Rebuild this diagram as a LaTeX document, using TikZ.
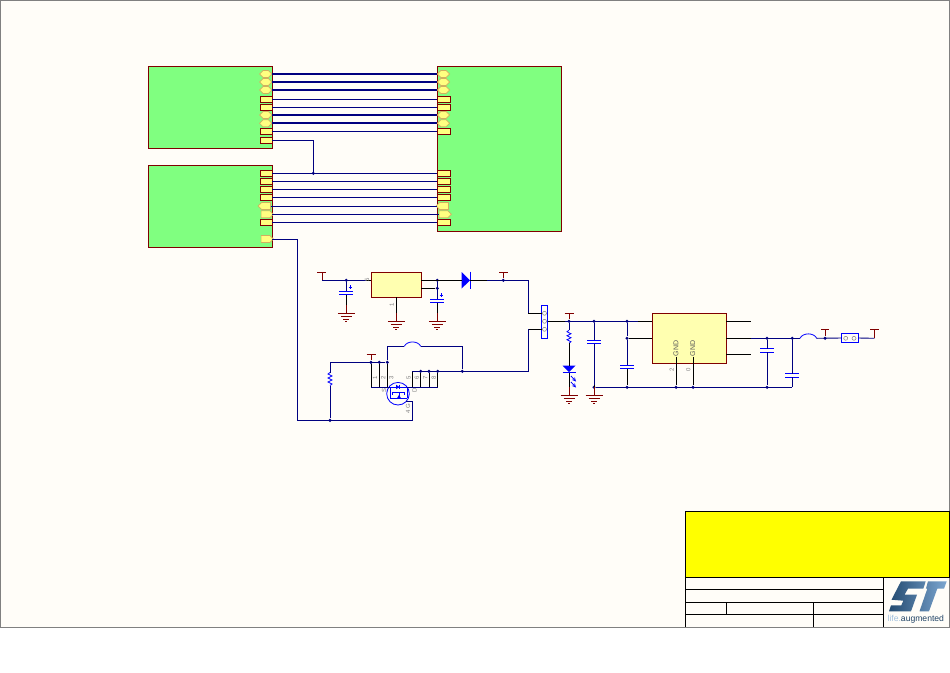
\documentclass[tikz,border=0pt]{standalone}
\usepackage{fontspec}
\setsansfont{Liberation Sans}
\usetikzlibrary{shapes,positioning}
\definecolor{paper}{HTML}{FFFDF8}
\definecolor{sheetgreen}{HTML}{80FF80}
\definecolor{portyellow}{HTML}{FFFF80}
\definecolor{partyellow}{HTML}{FFFFB0}
\definecolor{netblue}{HTML}{000080}
\definecolor{rimred}{HTML}{800000}
\definecolor{hexrim}{HTML}{D0B060}
\definecolor{stdark}{HTML}{234A70}
\definecolor{stlight}{HTML}{7CA6D0}
\definecolor{titleyellow}{HTML}{FFFF00}
\definecolor{pureblue}{HTML}{0000FF}
\tikzset{
  gndmark/.pic={
    \coordinate (-top) at (0,-8);
    \draw[rimred,line width=0.9pt] (0,-8) -- (0,0);
    \draw[rimred,line width=0.9pt] (-8.5,0) -- (8.5,0) (-5.5,3.6) -- (5.5,3.6) (-3,6.6) -- (3,6.6) (-1,8.6) -- (1,8.6);
  },
  capmark/.pic={
    \coordinate (-a) at (0,-1.7);
    \coordinate (-b) at (0,1.7);
    \draw[pureblue,line width=1pt] (-7,-1.7) -- (7,-1.7) (-7,1.7) -- (7,1.7);
  },
  polmark/.pic={
    \draw[pureblue,line width=0.9pt] (-1.8,0) -- (1.8,0) (0,-1.8) -- (0,1.8);
  },
  resmark/.pic={
    \coordinate (-a) at (0,-6.5);
    \coordinate (-b) at (0,6.5);
    \draw[pureblue,line width=0.8pt] (0,-6.5) -- (-2,-5) -- (2,-3) -- (-2,-1) -- (2,1) -- (-2,3) -- (2,5) -- (0,6.5);
  },
  diodemark/.pic={
    \coordinate (-a) at (-4.3,0);
    \coordinate (-b) at (4.3,0);
    \fill[pureblue] (-4.3,-8.2) -- (4,0) -- (-4.3,8.2) -- cycle;
    \draw[pureblue,line width=1pt] (4.3,-8.6) -- (4.3,8.6);
  },
  ledmark/.pic={
    \coordinate (-a) at (0,-3.5);
    \coordinate (-b) at (0,3.5);
    \fill[pureblue] (-6.5,-3.5) -- (6.5,-3.5) -- (0,3.2) -- cycle;
    \draw[pureblue,line width=1pt] (-6.5,3.5) -- (6.5,3.5);
    \draw[pureblue,line width=0.8pt,-stealth] (2,7) -- (7,12.5);
    \draw[pureblue,line width=0.8pt,-stealth] (2,13) -- (7,18.5);
  },
  fetmark/.pic={
    \draw[pureblue,line width=0.8pt] (0,0) circle (11.3);
    \draw[pureblue,line width=0.7pt] (-8,-6.7) -- (9,-6.7) (-8,-6.7) -- (-8,4.5) (9,-6.7) -- (9,4.5);
    \fill[pureblue] (-2,-9) -- (-2,-4.5) -- (1.5,-6.7) -- cycle;
    \draw[pureblue,line width=0.7pt] (1.5,-9) -- (1.5,-4.5);
    \draw[pureblue,line width=0.7pt] (-5.5,-1.8) -- (6,-1.8) (-5.5,-1.8) -- (-5.5,1.5) (1,-1.8) -- (1,4.5) (6,-1.8) -- (6,1.5) (-8,4.5) -- (9,4.5);
    \fill[pureblue] (-1,4.5) -- (3,4.5) -- (1,1.2) -- cycle;
  },
  sheet/.style={draw=rimred,fill=sheetgreen,line width=0.9pt,anchor=north west,inner sep=0pt,outer sep=0pt},
  part/.style={draw=rimred,fill=partyellow,line width=0.9pt,anchor=north west,inner sep=0pt,outer sep=0pt},
  rectport/.style={draw=rimred,fill=portyellow,line width=0.9pt,minimum width=12.3pt,minimum height=6.3pt,inner sep=0pt,outer sep=0pt},
  hexport/.style={signal,signal to=east and west,signal pointer angle=90,draw=hexrim,fill=portyellow,line width=0.7pt,minimum width=12.3pt,minimum height=7pt,inner sep=0pt,outer sep=0pt},
  leftport/.style={hexport,signal to=west},
  rightport/.style={hexport,signal to=east},
  connbox/.style={draw=pureblue,fill=paper,line width=0.9pt,inner sep=0pt,outer sep=0pt},
  pinhole/.style={circle,draw=gray,line width=0.5pt,minimum size=4pt,inner sep=0pt},
  jun/.style={circle,fill=netblue,minimum size=3.4pt,inner sep=0pt},
  bus/.style={netblue,line width=1.9pt},
  wire/.style={netblue,line width=0.9pt},
  pin/.style={black,line width=0.9pt},
  jumper/.style={pureblue,line width=0.8pt},
  pwrbar/.style={rimred,line width=0.9pt},
  pintext/.style={text=gray,font=\sffamily\fontsize{6}{6}\selectfont,rotate=90,inner sep=0pt},
  gndtext/.style={text=gray!70!black,font=\sffamily\fontsize{7}{7}\selectfont,rotate=90,inner sep=0pt}
}
\begin{document}
\begin{tikzpicture}[x=1pt,y=-1pt]
    \useasboundingbox (0,0) rectangle (950,672);
    \fill[paper] (0,0) rectangle (950,627);
    \draw[gray,line width=1pt] (0.5,0.5) rectangle (949.5,627);
    % sheets
    \node[sheet,minimum width=124pt,minimum height=82pt] (sheetA) at (148.3,66.3) {};
    \node[sheet,minimum width=124pt,minimum height=81.6pt] (sheetB) at (148.3,165.7) {};
    \node[sheet,minimum width=124pt,minimum height=165pt] (sheetC) at (437.3,66.3) {};
    % ports of the first sheet
    \node[hexport] (a1) at (265.7,74) {};
    \node[hexport] (a2) at (265.7,82) {};
    \node[hexport] (a3) at (265.7,90) {};
    \node[rectport] (a4) at (266.1,99.3) {};
    \node[rectport] (a5) at (266.1,107.3) {};
    \node[hexport] (a6) at (265.7,115) {};
    \node[hexport] (a7) at (265.7,123.3) {};
    \node[rectport] (a8) at (266.1,131.3) {};
    \node[rectport] (a9) at (266.1,140.3) {};
    % ports of the second sheet
    \node[rectport] (b1) at (266.1,173.3) {};
    \node[rectport] (b2) at (266.1,181.3) {};
    \node[rectport] (b3) at (266.1,189.3) {};
    \node[rectport] (b4) at (266.1,197.3) {};
    \node[leftport] (b5) at (266.1,206) {};
    \node[rightport] (b6) at (265.5,214.3) {};
    \node[rectport] (b7) at (266.1,222.7) {};
    \node[rightport] (b8) at (265.5,239) {};
    % ports of the third sheet
    \node[hexport] (c1) at (443.5,74) {};
    \node[hexport] (c2) at (443.5,82) {};
    \node[hexport] (c3) at (443.5,90) {};
    \node[rectport,minimum width=13.3pt] (c4) at (444,99.3) {};
    \node[rectport,minimum width=13.3pt] (c5) at (444,107.3) {};
    \node[hexport] (c6) at (443.5,115) {};
    \node[hexport] (c7) at (443.5,123.3) {};
    \node[rectport,minimum width=13.3pt] (c8) at (444,131.3) {};
    \node[rectport,minimum width=13.3pt] (c9) at (444,173.3) {};
    \node[rectport,minimum width=13.3pt] (c10) at (444,181.3) {};
    \node[rectport,minimum width=13.3pt] (c11) at (444,189.3) {};
    \node[rectport,minimum width=13.3pt] (c12) at (444,197.3) {};
    \node[leftport] (c13) at (444,206) {};
    \node[rightport] (c14) at (443.5,214.3) {};
    \node[rectport,minimum width=13.3pt] (c15) at (444,222.7) {};
    % nets between the sheets
    \draw[bus] (a1.east -| sheetA.east) -- (c1.west -| sheetC.west);
    \draw[bus] (a2.east -| sheetA.east) -- (c2.west -| sheetC.west);
    \draw[bus] (a3.east -| sheetA.east) -- (c3.west -| sheetC.west);
    \draw[wire] (a4.east) -- (c4.west);
    \draw[wire] (a5.east) -- (c5.west);
    \draw[bus] (a6.east -| sheetA.east) -- (c6.west -| sheetC.west);
    \draw[bus] (a7.east -| sheetA.east) -- (c7.west -| sheetC.west);
    \draw[wire] (a8.east) -- (c8.west);
    \draw[wire] (b1.east) -- (c9.west);
    \draw[wire] (b2.east) -- (c10.west);
    \draw[wire] (b3.east) -- (c11.west);
    \draw[wire] (b4.east) -- (c12.west);
    \draw[wire] (b5.east) -- (c13.west -| sheetC.west);
    \draw[wire] (b6.east -| sheetB.east) -- (c14.west);
    \draw[wire] (b7.east) -- (c15.west);
    \node[jun] (j0) at (313.3,173.3) {};
    \draw[wire] (a9.east) -| (j0.center);
    % input regulator
    \node[part,minimum width=50pt,minimum height=25pt] (reg) at (371.3,272.3) {};
    \node[jun] (j1) at (346.3,280.3) {};
    \node[jun] (j2) at (437.3,280.3) {};
    \node[jun] (j3) at (437.3,288.3) {};
    \node[jun] (j4) at (503.3,280.3) {};
    \coordinate (r1) at (317.3,272.3);
    \coordinate (r2) at (326,272.3);
    \coordinate (r3) at (322,272.3);
    \coordinate (r4) at (322,280.3);
    \coordinate (r5) at (366,280.3);
    \coordinate (r6) at (499,272.3);
    \coordinate (r7) at (507.7,272.3);
    \coordinate (r8) at (503.3,272.3);
    \coordinate (r9) at (528.3,280.3);
    \draw[pwrbar] (r1) -- (r2);
    \draw[pwrbar] (r3) -- (r4);
    \draw[wire] (r4) -- (r5);
    \draw[pin] (r5) -- (r5 -| reg.west);
    \pic (cin) at (346.3,293) {capmark};
    \pic at (350.3,287) {polmark};
    \pic (g1) at (346.3,313.3) {gndmark};
    \draw[wire] (j1) -- (cin-a);
    \draw[pin] (cin-b) -- (g1-top);
    \pic (g2) at (396.3,321.3) {gndmark};
    \draw[pin] (reg.south) -- (g2-top);
    \pic (cout) at (437.3,300.8) {capmark};
    \pic at (441.3,295) {polmark};
    \pic (g3) at (437.3,321.3) {gndmark};
    \draw[wire] (j2) -- (cout-a);
    \draw[pin] (cout-b) -- (g3-top);
    \draw[pin] (j3) -- (j3 -| reg.east);
    \pic (d1) at (466,280.3) {diodemark};
    \draw[pin] (reg.east |- j2) -- (d1-a);
    \coordinate (r10) at (486.7,280.3);
    \draw[pin] (d1-b) -- (r10);
    \draw[wire] (r10) -- (r9);
    \draw[pwrbar] (r6) -- (r7);
    \draw[pwrbar] (r8) -- (j4);
    \node[pintext] (t1) at (367,280.3) {5};
    \node[pintext] (t2) at (391.7,305) {1};
    % connector
    \node[connbox,minimum width=6pt,minimum height=33pt] (conn) at (544.5,321.8) {};
    \node[pinhole] (pa) at (544.5,313.3) {};
    \node[pinhole] (pb) at (544.5,321.3) {};
    \node[pinhole] (pc) at (544.5,329.3) {};
    \coordinate (r11) at (528.3,313.3);
    \coordinate (r12) at (528.3,329.3);
    \draw[wire] (r9) -- (r11);
    \draw[pin] (r11) -- (conn.west |- pa);
    \draw[pin] (r12) -- (conn.west |- pc);
    % mosfet
    \pic at (398,393.7) {fetmark};
    \node[jun] (j5) at (371,362.3) {};
    \node[jun] (j6) at (379.3,362.3) {};
    \node[jun] (j7) at (387.3,362.3) {};
    \node[jun] (j8) at (330,420.3) {};
    \node[jun] (j9) at (420.7,371.3) {};
    \node[jun] (j10) at (429,371.3) {};
    \node[jun] (j11) at (437.7,371.3) {};
    \node[jun] (j12) at (462.3,371.3) {};
    \coordinate (s0) at (371,387.3);
    \coordinate (s1) at (379.3,387.3);
    \coordinate (s2) at (387.3,387.3);
    \coordinate (s3) at (412.3,371.3);
    \coordinate (s4) at (412.3,387.3);
    \coordinate (s5) at (420.7,387.3);
    \coordinate (s6) at (429,387.3);
    \coordinate (s7) at (437.7,387.3);
    \coordinate (s8) at (390,387.3);
    \coordinate (s9) at (404.3,346.3);
    \coordinate (s10) at (420.7,346.3);
    \coordinate (s11) at (412.3,401.7);
    \coordinate (s12) at (406,401.7);
    \coordinate (s13) at (366.7,354.3);
    \coordinate (s14) at (375.7,354.3);
    \coordinate (s15) at (371,354.3);
    \coordinate (s16) at (297.5,420.3);
    \draw[wire] (b8.east -| sheetB.east) -| (s16) -- (s11 |- s16) -- (s11) -- (s12);
    \pic (r20) at (330,379) {resmark};
    \draw[wire] (j8) -- (r20-b);
    \draw[wire] (r20-a) |- (j7);
    \draw[pwrbar] (s13) -- (s14);
    \draw[pwrbar] (s15) -- (j5);
    \draw[pin] (j5) -- (s0);
    \draw[pin] (j6) -- (s1);
    \draw[pin] (j7) -- (s2);
    \draw[wire] (s0) -- (s8);
    \draw[pin] (s3) -- (s4);
    \draw[pin] (j9) -- (s5);
    \draw[pin] (j10) -- (s6);
    \draw[pin] (j11) -- (s7);
    \draw[wire] (s4) -- (s7);
    \draw[wire] (s4) -- (407,387.3);
    \draw[wire] (s3) -- (r12 |- s3) -- (r12);
    \draw[wire] (j7) |- (s9);
    \draw[jumper] (s9) to[bend left=65] (s10);
    \draw[wire] (s10) -| (j12);
    \node[pintext] (t3) at (375,378) {1};
    \node[pintext] (t4) at (383.3,378) {2};
    \node[pintext] (t5) at (391.3,378) {3};
    \node[pintext] (t6) at (408.5,378) {5};
    \node[pintext] (t7) at (416.9,378) {6};
    \node[pintext] (t8) at (425.2,378) {7};
    \node[pintext] (t9) at (433.9,378) {8};
    \node[pintext] (t10) at (384,390.5) {S};
    \node[pintext] (t11) at (414.5,390.7) {D};
    \node[pintext] (t12) at (408,406) {G};
    \node[pintext] (t13) at (408,412.3) {4};
    % output side
    \node[part,minimum width=74pt,minimum height=49.6pt] (ldo) at (652.3,313.7) {};
    \node[jun] (k1) at (569,321.3) {};
    \node[jun] (k2) at (594,321.3) {};
    \node[jun] (k3) at (627,321.3) {};
    \node[jun] (k4) at (627,338.3) {};
    \node[jun] (k5) at (594,387.3) {};
    \node[jun] (k6) at (627,387.3) {};
    \node[jun] (k7) at (676,387.3) {};
    \node[jun] (k8) at (693,387.3) {};
    \node[jun] (k9) at (767,387.3) {};
    \node[jun] (k10) at (767,338.3) {};
    \node[jun] (k11) at (792.3,338.3) {};
    \node[jun] (k12) at (825,338.3) {};
    \coordinate (u1) at (565,321.3);
    \coordinate (u2) at (638,321.3);
    \coordinate (u3) at (564.5,313.7);
    \coordinate (u4) at (574,313.7);
    \coordinate (u5) at (569,313.7);
    \coordinate (u6) at (792.3,387.3);
    \coordinate (u7) at (751,321.3);
    \coordinate (u8) at (751,338.3);
    \coordinate (u9) at (751,354);
    \coordinate (u10) at (800,338.3);
    \coordinate (u11) at (816.7,338.3);
    \coordinate (u12) at (821,329.3);
    \coordinate (u13) at (829.3,329.3);
    \coordinate (u14) at (825,329.3);
    \coordinate (u15) at (870,329.3);
    \coordinate (u16) at (878.7,329.3);
    \coordinate (u17) at (874.3,329.3);
    \coordinate (u18) at (874.3,338.3);
    \coordinate (u19) at (676,356.5);
    \coordinate (u20) at (693,356.5);
    \draw[pin] (conn.east |- pb) -- (u1);
    \draw[wire] (u1) -- (u2);
    \draw[pin] (u2) -- (u2 -| ldo.west);
    \draw[pwrbar] (u3) -- (u4);
    \draw[pwrbar] (u5) -- (k1);
    \pic (rl) at (569,336.7) {resmark};
    \pic (led) at (569,369) {ledmark};
    \draw[wire] (k1) -- (rl-a);
    \draw[pin] (rl-b) -- (led-a);
    \pic (g4) at (569,395) {gndmark};
    \draw[pin] (led-b) -- (g4-top);
    \pic (c21) at (594,342) {capmark};
    \draw[wire] (k2) -- (c21-a);
    \draw[wire] (c21-b) -- (k5);
    \pic (g5) at (594,395) {gndmark};
    \draw[pin] (k5) -- (g5-top);
    \pic (c22) at (627,367) {capmark};
    \draw[wire] (k3) -- (k4);
    \draw[wire] (k4) -- (c22-a);
    \draw[pin] (c22-b) -- (k6);
    \draw[pin] (k4) -- (k4 -| ldo.west);
    \draw[wire] (k5) -- (u6);
    \draw[pin] (u19) -- (k7);
    \draw[pin] (u20) -- (k8);
    \draw[pin] (ldo.east |- u7) -- (u7);
    \draw[pin] (ldo.east |- u8) -- (u8);
    \draw[pin] (ldo.east |- u9) -- (u9);
    \draw[wire] (u8) -- (u10);
    \draw[jumper] (u10) to[bend left=65] (u11);
    \pic (c23) at (767,350.3) {capmark};
    \draw[wire] (k10) -- (c23-a);
    \draw[wire] (c23-b) -- (k9);
    \pic (c24) at (792.3,375.3) {capmark};
    \draw[wire] (k11) -- (c24-a);
    \draw[wire] (c24-b) -- (u6);
    \draw[pwrbar] (u12) -- (u13);
    \draw[pwrbar] (u14) -- (k12);
    \node[connbox,minimum width=16.6pt,minimum height=9.4pt] (jp) at (850,338) {};
    \node[pinhole] (jpa) at (845.7,338.3) {};
    \node[pinhole] (jpb) at (854,338.3) {};
    \draw[wire] (u11) -- (jp.west);
    \draw[wire] (jp.east) -- (u18);
    \draw[pwrbar] (u15) -- (u16);
    \draw[pwrbar] (u17) -- (u18);
    \node[gndtext] (t14) at (676,348.5) {GND};
    \node[gndtext] (t15) at (692.7,348.5) {GND};
    \node[pintext] (t16) at (671.7,370) {2};
    \node[pintext] (t17) at (688.3,370) {0};
    % title block
    \draw[black,fill=titleyellow,line width=1pt] (685.3,511.3) rectangle (949.3,577.3);
    \draw[black,line width=1pt] (685.3,577.3) -- (685.3,627);
    \draw[black,line width=1pt] (883.3,577.3) -- (883.3,627);
    \draw[black,line width=1pt] (685.3,589.3) -- (883.3,589.3);
    \draw[black,line width=1pt] (685.3,602.3) -- (883.3,602.3);
    \draw[black,line width=1pt] (685.3,614.3) -- (883.3,614.3);
    \draw[black,line width=1pt] (726.3,602.3) -- (726.3,614.3);
    \draw[black,line width=1pt] (813.3,602.3) -- (813.3,627);
    % logo
    \shade[left color=stdark,right color=stlight]
      (901,581.3) -- (925.7,581.3) -- (923.3,588.7) -- (908,588.7) -- (904.5,594.7) -- (917,594.7)
      -- (911,611.3) -- (889,611.3) -- (891,605.3) -- (901.3,605.3) -- (903.3,600.7) -- (891.5,599.7) -- cycle
      (928,581.3) -- (946.7,581.3) -- (944,588.7) -- (937.3,588.7) -- (929,611.3) -- (919.5,611.3) -- (927.3,588.7) -- (925.9,588.7) -- cycle;
    \node[font=\sffamily\fontsize{8.6}{9}\selectfont,inner sep=0pt] (slogan) at (915.8,619) {\textcolor{stlight!70}{life.}\textcolor{stdark!90!black}{augmented}};
\end{tikzpicture}
\end{document}
